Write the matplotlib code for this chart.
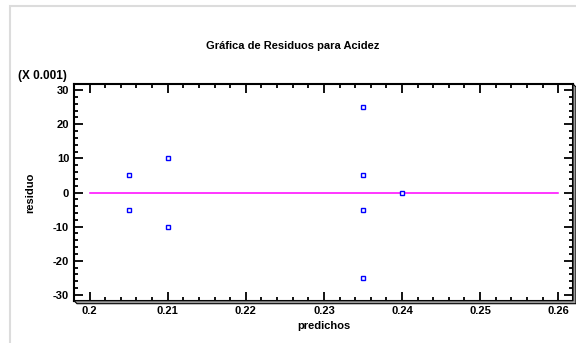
"""
Residual plot for Acidez (predicted vs residual).
"""

import matplotlib
matplotlib.use('Agg')
import matplotlib.pyplot as plt
from matplotlib.patches import Polygon, Rectangle
from matplotlib.ticker import MultipleLocator, FuncFormatter

# Data
predichos = [0.205, 0.205, 0.21, 0.21, 0.235, 0.235, 0.235, 0.235, 0.24]
residuos = [0.005, -0.005, 0.010, -0.010, 0.025, 0.005, -0.005, -0.025, 0.0]
zero_line_x = [0.2, 0.26]
y_scale = 0.001

plt.rcParams['font.family'] = ['Liberation Sans', 'DejaVu Sans']

W, H = 576, 343
fig = plt.figure(figsize=(W / 100, H / 100), dpi=100)

# light frame around the panel
fig.patches.append(Rectangle((9.5 / W, -0.05), 1.2, 1.05 - 6 / H, transform=fig.transFigure,
                             fill=False, edgecolor='#dcdcdc', linewidth=1.5))

left, right, bottom, top = 74, 573, 300.7, 84
ax = fig.add_axes([left / W, 1 - bottom / H, (right - left) / W, (bottom - top) / H])

# 3D-ish shadow below and to the right of the frame
d = 3
shadow = [(left / W, 1 - bottom / H), ((left + d) / W, 1 - (bottom + d) / H),
          ((right + d) / W, 1 - (bottom + d) / H), ((right + d) / W, 1 - (top + d) / H),
          (right / W, 1 - top / H), (right / W, 1 - bottom / H)]
fig.patches.append(Polygon(shadow, closed=True, transform=fig.transFigure,
                           facecolor='#9a9a9a', edgecolor='black', linewidth=0.8))

yvals = [r / y_scale for r in residuos]
ax.plot(zero_line_x, [0, 0], color='#ff00ff', lw=1.1, zorder=2)
ax.plot(predichos, yvals, linestyle='none', marker='s', markersize=2.6,
        markerfacecolor='white', markeredgecolor='#0000ff', markeredgewidth=1.0, zorder=3)

ax.set_xlim(0.198, 0.2619)
ax.set_ylim(-31.7, 31.8)

ax.xaxis.set_major_locator(MultipleLocator(0.01))
ax.xaxis.set_minor_locator(MultipleLocator(0.002))
ax.yaxis.set_major_locator(MultipleLocator(10))
ax.yaxis.set_minor_locator(MultipleLocator(2))
ax.xaxis.set_major_formatter(FuncFormatter(lambda v, p: '%g' % round(v, 4)))
ax.yaxis.set_major_formatter(FuncFormatter(lambda v, p: '%g' % round(v, 4)))

ax.tick_params(which='both', direction='in', top=True, right=True, width=1.3,
               labelsize=8, pad=3.5)
ax.tick_params(which='major', length=6.5)
ax.tick_params(which='minor', length=3.2)
for lab in ax.get_xticklabels() + ax.get_yticklabels():
    lab.set_fontweight('bold')
for s in ax.spines.values():
    s.set_linewidth(1.5)

ax.set_xlabel('predichos', fontsize=8, fontweight='bold', labelpad=4)
ax.set_ylabel('residuo', fontsize=8, fontweight='bold', labelpad=13)
fig.text(42 / W, 1 - 76 / H, '(X 0.001)', ha='center', va='center', fontsize=8.5,
         fontweight='bold')
fig.text(293 / W, 1 - 46 / H, 'Gráfica de Residuos para Acidez', ha='center', va='center',
         fontsize=8, fontweight='bold')

plt.savefig('out.png', dpi=100, facecolor='white')
